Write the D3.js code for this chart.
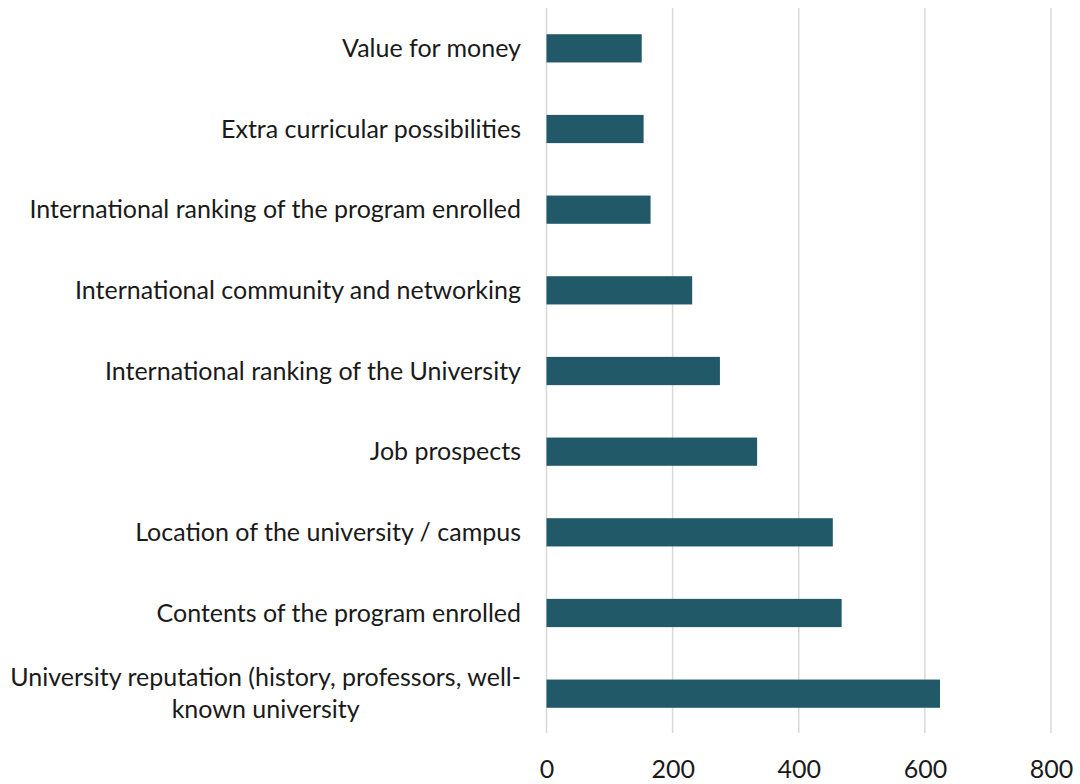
<!DOCTYPE html>
<html>
<head>
<meta charset="utf-8">
<script src="https://cdn.jsdelivr.net/npm/d3@7"></script>
<style>
  html, body { margin: 0; padding: 0; background: #fff; }
  svg text { font-family: Lato, "Open Sans", sans-serif; fill: #1a1a1a; }
</style>
</head>
<body>
<svg id="chart" width="1080" height="784"></svg>
<script>
// Reasons for choosing the university (number of responses)
const categories = [
  "Value for money",
  "Extra curricular possibilities",
  "International ranking of the program enrolled",
  "International community and networking",
  "International ranking of the University",
  "Job prospects",
  "Location of the university / campus",
  "Contents of the program enrolled",
  "University reputation (history, professors, well-|known university"
];
const responses = [151, 154, 165, 231, 275, 334, 454, 468, 624];
const xTicks = [0, 200, 400, 600, 800];

const svg = d3.select("#chart");
const margin = { left: 546.5, right: 29, top: 8, bottom: 50 };
const W = 1080, H = 784;
const fontSize = 25;

const x = d3.scaleLinear().domain([0, 800]).range([margin.left, W - margin.right]);
const y = d3.scaleBand().domain(categories).range([margin.top, H - margin.bottom]).paddingInner(0.65).paddingOuter(0.325);

// vertical gridlines
svg.append("g").selectAll("line").data(xTicks).join("line")
  .attr("x1", d => x(d)).attr("x2", d => x(d))
  .attr("y1", margin.top).attr("y2", H - margin.bottom - 1)
  .attr("stroke", "#d9d9d9").attr("stroke-width", 1.5);

// x axis tick labels
const xAxis = d3.axisBottom(x).tickValues(xTicks).tickSize(0).tickPadding(0);
const gx = svg.append("g").attr("transform", `translate(0, ${H - margin.bottom})`).call(xAxis);
gx.select(".domain").remove();
gx.selectAll("text").attr("font-size", fontSize).attr("dy", null).attr("y", 44)
  .style("font-family", "Lato, 'Open Sans', sans-serif").attr("fill", "#1a1a1a");

// bars
svg.append("g").selectAll("rect").data(categories).join("rect")
  .attr("x", x(0))
  .attr("y", d => y(d))
  .attr("width", (d, i) => x(responses[i]) - x(0))
  .attr("height", y.bandwidth())
  .attr("fill", "#225968");

// category labels (right-aligned block, wrapped lines centred on each other)
const labelRight = 521;
const lg = svg.append("g");
categories.forEach(c => {
  const lines = c.split("|");
  const cy = y(c) + y.bandwidth() / 2;
  const t = lg.append("text").attr("font-size", fontSize);
  if (lines.length === 1) {
    t.attr("x", labelRight).attr("y", cy).attr("dy", "0.35em").attr("text-anchor", "end").text(lines[0]);
  } else {
    const lh = 32;
    // measure the first line to centre the block against the right edge
    const probe = lg.append("text").attr("font-size", fontSize).text(lines[0]);
    const w = probe.node().getComputedTextLength();
    probe.remove();
    const cx = labelRight - w / 2;
    t.attr("text-anchor", "middle");
    lines.forEach((ln, k) => {
      t.append("tspan").attr("x", cx)
        .attr("y", cy + (k - (lines.length - 1) / 2) * lh)
        .attr("dy", "0.35em").text(ln);
    });
  }
});
</script>
</body>
</html>
